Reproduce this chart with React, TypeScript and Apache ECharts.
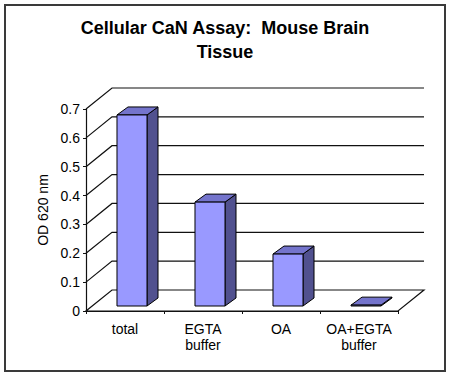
import React, { useEffect, useRef } from "react";
import * as echarts from "echarts";

const categories = ["total", "EGTA\nbuffer", "OA", "OA+EGTA\nbuffer"];
const odValues = [0.662, 0.36, 0.18, 0.003];
const tickValues = [0, 0.1, 0.2, 0.3, 0.4, 0.5, 0.6, 0.7];
const titleText = "Cellular CaN Assay:  Mouse Brain\nTissue";
const yAxisName = "OD 620 nm";

const FONT = "'Liberation Sans', Arial, sans-serif";
// 3D projection offsets (pixels)
const WALL_DX = 26;
const WALL_DY = -21;
const BAR_FDX = 7;
const BAR_FDY = -5;
const BAR_DDX = 11;
const BAR_DDY = -8;
const BAR_FRAC = 0.385;

export default function App() {
  const ref = useRef<HTMLDivElement>(null);
  useEffect(() => {
    if (!ref.current) return;
    const chart = echarts.init(ref.current, null, { renderer: "svg" });
    const lineStyle = { stroke: "#111", lineWidth: 1.2, fill: "none" };
    chart.setOption({
      animation: false,
      backgroundColor: "#fff",
      title: {
        text: titleText,
        left: 225,
        top: 16,
        padding: 0,
        textAlign: "center",
        textStyle: {
          fontFamily: FONT,
          fontSize: 18,
          fontWeight: "bold",
          lineHeight: 24,
          color: "#000",
          align: "center",
        },
      },
      graphic: [
        {
          type: "rect",
          shape: { x: 5, y: 5, width: 440, height: 366 },
          style: { fill: "none", stroke: "#3a3a3a", lineWidth: 2 },
          silent: true,
        },
      ],
      grid: { left: 86, right: 52, top: 109, bottom: 66, containLabel: false },
      xAxis: {
        type: "category",
        data: categories,
        boundaryGap: true,
        axisLine: { show: true, lineStyle: { color: "#111", width: 1.2 } },
        axisTick: { show: true, length: 3, inside: false, lineStyle: { color: "#111" } },
        axisLabel: {
          fontFamily: FONT,
          fontSize: 14,
          color: "#000",
          margin: 10,
          lineHeight: 16,
          interval: 0,
        },
        splitLine: { show: false },
        z: 10,
      },
      yAxis: {
        type: "value",
        min: 0,
        max: 0.7,
        interval: 0.1,
        name: yAxisName,
        nameLocation: "middle",
        nameGap: 36,
        nameTextStyle: { fontFamily: FONT, fontSize: 14, color: "#000" },
        axisLine: { show: true, lineStyle: { color: "#111", width: 1.2 } },
        axisTick: { show: true, length: 3, lineStyle: { color: "#111" } },
        axisLabel: { fontFamily: FONT, fontSize: 14, color: "#000", margin: 6 },
        splitLine: { show: false },
      },
      series: [
        {
          type: "custom",
          name: "walls",
          silent: true,
          z: 1,
          data: tickValues.map((v) => [0, v]),
          renderItem: (params: any, api: any) => {
            const v = api.value(1);
            const bw = api.size([1, 0])[0];
            const left = api.coord([0, v]);
            const right = api.coord([categories.length - 1, v]);
            const x0 = left[0] - bw / 2;
            const x1 = right[0] + bw / 2;
            const y = left[1];
            const children: any[] = [];
            if (v === 0) {
              children.push({
                type: "polygon",
                shape: {
                  points: [
                    [x0, y],
                    [x1, y],
                    [x1 + WALL_DX, y + WALL_DY],
                    [x0 + WALL_DX, y + WALL_DY],
                  ],
                },
                style: { fill: "#fff", stroke: "#111", lineWidth: 1.2 },
              });
            } else {
              children.push({
                type: "polyline",
                shape: {
                  points: [
                    [x0, y],
                    [x0 + WALL_DX, y + WALL_DY],
                    [x1 + WALL_DX, y + WALL_DY],
                  ],
                },
                style: lineStyle,
              });
            }
            return { type: "group", children };
          },
        },
        {
          type: "custom",
          name: "OD 620 nm",
          z: 5,
          data: odValues.map((v, i) => [i, v]),
          renderItem: (params: any, api: any) => {
            const i = api.value(0);
            const v = api.value(1);
            const top = api.coord([i, v]);
            const base = api.coord([i, 0]);
            const bw = api.size([1, 0])[0];
            const w = bw * BAR_FRAC;
            const L = top[0] + BAR_FDX - w / 2;
            const R = L + w;
            const T = top[1] + BAR_FDY;
            const B = base[1] + BAR_FDY;
            const stroke = { stroke: "#000", lineWidth: 1 };
            return {
              type: "group",
              children: [
                {
                  type: "polygon",
                  shape: {
                    points: [
                      [R, T],
                      [R + BAR_DDX, T + BAR_DDY],
                      [R + BAR_DDX, B + BAR_DDY],
                      [R, B],
                    ],
                  },
                  style: { fill: "#51518f", ...stroke },
                },
                {
                  type: "polygon",
                  shape: {
                    points: [
                      [L, T],
                      [L + BAR_DDX, T + BAR_DDY],
                      [R + BAR_DDX, T + BAR_DDY],
                      [R, T],
                    ],
                  },
                  style: { fill: "#7474cc", ...stroke },
                },
                {
                  type: "rect",
                  shape: { x: L, y: T, width: w, height: Math.max(B - T, 0) },
                  style: { fill: "#9999ff", ...stroke },
                },
              ],
            };
          },
        },
      ],
    });
    return () => chart.dispose();
  }, []);
  return (
    <div
      ref={ref}
      style={{ position: "fixed", left: 0, top: 0, width: 450, height: 377 }}
    />
  );
}
